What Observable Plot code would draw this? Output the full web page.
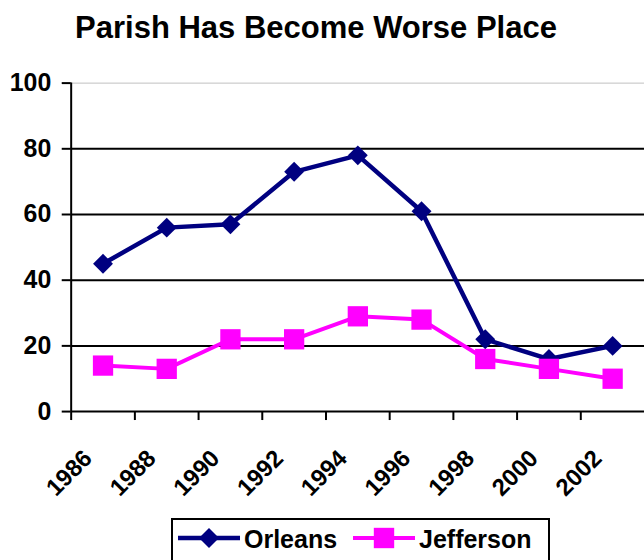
<!DOCTYPE html>
<html>
<head>
<meta charset="utf-8">
<script src="https://cdn.jsdelivr.net/npm/d3@7"></script>
<script src="https://cdn.jsdelivr.net/npm/@observablehq/plot@0.6"></script>
<style>
  html, body { margin: 0; padding: 0; background: #fff; overflow: hidden; }
  #wrap { position: relative; width: 644px; height: 560px; overflow: hidden; font-family: "Liberation Sans", Arial, sans-serif; }
  #title { position: absolute; left: 0; top: 12px; width: 632px; text-align: center; font-size: 31px; font-weight: bold; line-height: 31px; color: #000; }
  #chart { position: absolute; left: 0; top: 0; }
  #legend { position: absolute; left: 171px; top: 518px; }
</style>
</head>
<body>
<div id="wrap">
  <div id="chart"></div>
  <div id="title">Parish Has Become Worse Place</div>
  <div id="legend"></div>
</div>
<script>
const titleText = "Parish Has Become Worse Place";
const years = [1986, 1988, 1990, 1992, 1994, 1996, 1998, 2000, 2002];
const orleans = [45, 56, 57, 73, 78, 61, 22, 16, 20];
const jefferson = [14, 13, 22, 22, 29, 28, 16, 13, 10];
const seriesNames = ["Orleans", "Jefferson"];
const seriesColors = ["#000080", "#FF00FF"];
const seriesSymbols = ["diamond2", "square"];
const yTicks = [0, 20, 40, 60, 80, 100];

const seriesValues = [orleans, jefferson];
const tables = seriesNames.map((name, s) =>
  years.map((yr, i) => ({year: yr, value: seriesValues[s][i], series: name}))
);

const font = '"Liberation Sans", Arial, sans-serif';

const seriesMarks = [];
tables.forEach((tbl, s) => {
  seriesMarks.push(Plot.line(tbl, {x: "year", y: "value", stroke: seriesColors[s], strokeWidth: s === 0 ? 4.5 : 4}));
  seriesMarks.push(Plot.dot(tbl, {x: "year", y: "value", symbol: seriesSymbols[s], r: s === 0 ? 9 : 11.5, fill: seriesColors[s], stroke: "none"}));
});

const chart = Plot.plot({
  width: 647,
  height: 560,
  marginLeft: 71,
  marginRight: 0,
  marginTop: 83,
  marginBottom: 147,
  style: {fontFamily: font, background: "transparent", color: "#000"},
  x: {type: "band", domain: years, padding: 0, axis: null},
  y: {domain: [0, 100], axis: null},
  marks: [
    Plot.ruleY(yTicks.filter(t => t > 0 && t < 100), {stroke: "#000", strokeWidth: 2}),
    Plot.ruleY([100], {stroke: "#c0c0c0", strokeWidth: 1}),
    Plot.ruleY([0], {stroke: "#000", strokeWidth: 2}),
    Plot.ruleX([years[0]], {y1: 0, y2: 100, dx: -32, stroke: "#000", strokeWidth: 2}),
    Plot.ruleX(years, {x: d => d, y1: 0, y2: 0, insetBottom: -9, dx: -32, stroke: "#000", strokeWidth: 2}),
    Plot.axisY(yTicks, {tickSize: 9, tickPadding: 11, fontSize: 25, fontWeight: "bold", stroke: "#000", strokeWidth: 2, fill: "#000", label: null}),
    Plot.text(years, {x: d => d, frameAnchor: "bottom", text: d => String(d), rotate: -45, textAnchor: "end", lineAnchor: "middle", dx: -15, dy: 43, fontSize: 24, fontWeight: "bold", fill: "#000"}),
    ...seriesMarks
  ]
});
document.getElementById("chart").appendChild(chart);

// Legend
const lg = d3.select("#legend").append("svg").attr("width", 379).attr("height", 46).style("display", "block");
lg.append("rect").attr("x", 1).attr("y", 1).attr("width", 377).attr("height", 60).attr("fill", "#fff").attr("stroke", "#000").attr("stroke-width", 2);
const itemX = [7, 182];
seriesNames.forEach((name, s) => {
  const g = lg.append("g").attr("transform", `translate(${itemX[s]},20)`);
  g.append("line").attr("x1", 0).attr("x2", 62).attr("y1", 0).attr("y2", 0).attr("stroke", seriesColors[s]).attr("stroke-width", s === 0 ? 4.5 : 4);
  const sym = s === 0 ? d3.symbol(d3.symbolDiamond2, Math.PI * 81) : d3.symbol(d3.symbolSquare, Math.PI * 11.5 * 11.5);
  g.append("path").attr("d", sym()).attr("transform", "translate(31,0)").attr("fill", seriesColors[s]);
  g.append("text").attr("x", 66).attr("y", 10).attr("font-family", font).attr("font-size", 25).attr("font-weight", "bold").attr("fill", "#000").text(name);
});
</script>
</body>
</html>
